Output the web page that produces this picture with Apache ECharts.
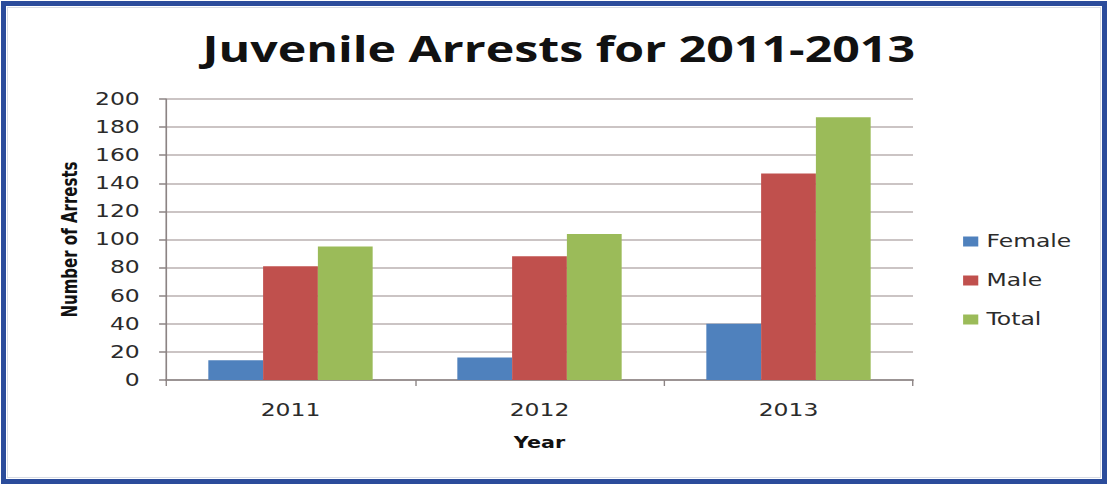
<!DOCTYPE html>
<html>
<head>
<meta charset="utf-8">
<script src="https://cdn.jsdelivr.net/npm/echarts@6/dist/echarts.min.js"></script>
<style>
  html, body { margin: 0; padding: 0; background: #fff; overflow: hidden; }
  #wrap { position: relative; width: 1108px; height: 485px; overflow: hidden; }
  /* the chart is laid out at a narrower width and widened to fill the page */
  #chart {
    position: absolute; left: 0; top: 0; width: 803px; height: 485px;
    transform: scaleX(1.3798); transform-origin: 0 0;
  }
  #frame {
    position: absolute; left: 1px; top: 1px; width: 1096px; height: 473px;
    border: 5px solid #2b4c9b; pointer-events: none;
  }
  #frame::after {
    content: ""; position: absolute; left: 1px; top: 1px; right: 1px; bottom: 1px;
    border: 1px solid #d8dce4;
  }
</style>
</head>
<body>
<div id="wrap">
  <div id="chart"></div>
  <div id="frame"></div>
</div>
<script>
// Juvenile arrests by year, split by sex
const years = ['2011', '2012', '2013'];
const female = [14, 16, 40];
const male = [81, 88, 147];
const total = [95, 104, 187];
const seriesNames = ['Female', 'Male', 'Total'];
const seriesColors = ['#4f81bd', '#c0504d', '#9bbb59'];
const yTicks = { min: 0, max: 200, interval: 20 };

const chart = echarts.init(document.getElementById('chart'), null, { renderer: 'svg' });
const textColor = '#2b2b2b';
const axisColor = '#8c8484';
const gridColor = '#bab1b1';

chart.setOption({
  animation: false,
  backgroundColor: '#fff',
  title: {
    text: 'Juvenile Arrests for 2011-2013',
    left: 400, top: 26, textAlign: 'center',
    textStyle: { fontFamily: 'Open Sans', fontWeight: 'bold', fontSize: 35, color: '#111' }
  },
  legend: {
    orient: 'vertical',
    left: 693, top: 228,
    itemWidth: 11, itemHeight: 10, itemGap: 22,
    icon: 'rect',
    data: seriesNames,
    textStyle: { fontFamily: 'DejaVu Sans', fontSize: 17, color: textColor, padding: [0, 0, 0, 1] }
  },
  grid: { left: 120.3, right: 141.3, top: 99, bottom: 105, containLabel: false },
  xAxis: {
    type: 'category',
    data: years,
    name: 'Year', nameLocation: 'middle', nameGap: 55,
    nameTextStyle: { fontFamily: 'DejaVu Sans', fontWeight: 'bold', fontSize: 15, color: '#111' },
    axisLine: { lineStyle: { color: axisColor, width: 1.5 } },
    axisTick: { show: true, length: 6, lineStyle: { color: axisColor, width: 1 } },
    axisLabel: { margin: 22, fontFamily: 'DejaVu Sans', fontSize: 17, color: textColor }
  },
  yAxis: {
    type: 'value',
    min: yTicks.min, max: yTicks.max, interval: yTicks.interval,
    name: 'Number of Arrests', nameLocation: 'middle', nameGap: 62, nameRotate: 90,
    nameTextStyle: { fontFamily: 'DejaVu Sans', fontWeight: 'bold', fontSize: 15, color: '#111' },
    axisLine: { show: true, lineStyle: { color: axisColor, width: 1.2 } },
    axisTick: { show: true, length: 5, lineStyle: { color: axisColor, width: 1.5 } },
    axisLabel: { margin: 19, fontFamily: 'DejaVu Sans', fontSize: 17, color: textColor },
    splitLine: { lineStyle: { color: gridColor, width: 1.5 } }
  },
  series: [female, male, total].map((vals, i) => ({
    name: seriesNames[i],
    type: 'bar',
    data: vals,
    barGap: '0%',
    barCategoryGap: '34%',
    itemStyle: { color: seriesColors[i] }
  }))
});
</script>
</body>
</html>
